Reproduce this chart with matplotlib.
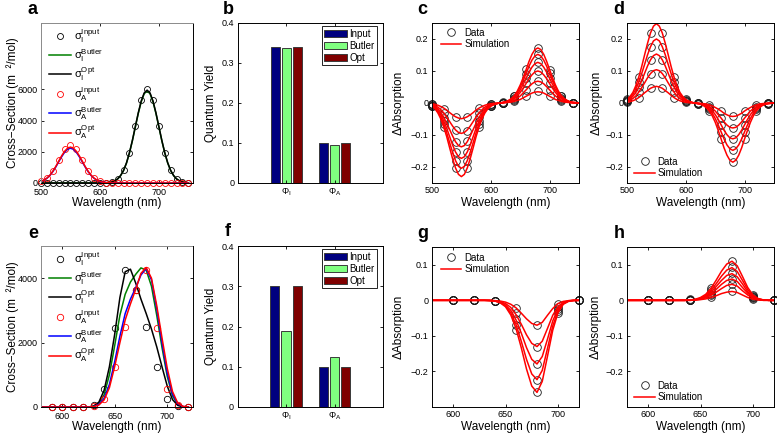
import matplotlib
matplotlib.use('Agg')
import matplotlib.pyplot as plt
from matplotlib.ticker import FuncFormatter

plt.rcParams['font.family'] = ['Liberation Sans', 'DejaVu Sans']
plt.rcParams['mathtext.fontset'] = 'custom'
plt.rcParams['mathtext.rm'] = 'Liberation Sans'
plt.rcParams['mathtext.it'] = 'Liberation Sans:italic'
plt.rcParams['mathtext.bf'] = 'Liberation Sans:bold'
plt.rcParams['mathtext.default'] = 'regular'

# ---------------- data ----------------
# panel a (cross sections, case 1)
wl_a_dat = list(range(500, 760, 10))
sigI_input_a = [0, 0, 0, 0, 0, 0, 0, 0, 0, 0, 0, 0, 70, 260, 810, 1950, 3640, 5290, 6000, 5290, 3640, 1950, 810, 260, 70, 10]
sigA_input_a = [100, 300, 760, 1470, 2180, 2450, 2180, 1470, 760, 300, 100, 30, 0, 0, 0, 0, 0, 0, 0, 0, 0, 0, 0, 0, 0, 0]
wl_a_sim = list(range(500, 755, 5))
sigI_butler_a = [0, 0, 0, 0, 0, 0, 0, 0, 0, 0, 0, 0, 0, 0, 0, 0, 0, 0, 0, 0, 0, 0,
                 12, 30, 65, 136, 260, 472, 797, 1274, 1918, 2702, 3581, 4455, 5204, 5717, 5900,
                 5717, 5204, 4455, 3581, 2702, 1918, 1274, 797, 472, 260, 136, 65, 30, 12]
sigI_opt_a = [0, 0, 0, 0, 0, 0, 0, 0, 0, 0, 0, 0, 0, 0, 0, 0, 0, 0, 0, 0, 0, 0,
              12, 30, 65, 137, 262, 476, 803, 1285, 1934, 2725, 3612, 4492, 5248, 5766, 5950,
              5766, 5248, 4492, 3612, 2725, 1934, 1285, 803, 476, 262, 137, 65, 30, 12]
sigA_butler_a = [98, 178, 301, 482, 725, 1021, 1354, 1684, 1967, 2161, 2230,
                 2161, 1967, 1684, 1354, 1021, 725, 482, 301, 178, 98,
                 51, 25, 11, 4, 2,
                 0, 0, 0, 0, 0, 0, 0, 0, 0, 0, 0, 0, 0, 0, 0, 0, 0, 0, 0, 0, 0, 0, 0, 0, 0]
sigA_opt_a = [101, 184, 311, 497, 748, 1053, 1396, 1737, 2029, 2229, 2300,
              2229, 2029, 1737, 1396, 1053, 748, 497, 311, 184, 101,
              53, 25, 12, 5, 2,
              0, 0, 0, 0, 0, 0, 0, 0, 0, 0, 0, 0, 0, 0, 0, 0, 0, 0, 0, 0, 0, 0, 0, 0, 0]

# panel e (cross sections, case 2)
wl_e_dat = list(range(590, 730, 10))
sigI_input_e = [0, 0, 0, 0, 50, 550, 2450, 4250, 3640, 2500, 1250, 250, 30, 0]
sigA_input_e = [0, 0, 0, 0, 30, 250, 1250, 2500, 3640, 4250, 2450, 550, 50, 0]
wl_e_sim = list(range(580, 725, 5))
sigI_butler_e = [0, 0, 0, 0, 0, 0, 0, 0, 0, 0, 20, 120, 380, 1000, 1900, 2850, 3500, 3880, 4120, 4320, 4250, 3750, 2850, 1850, 950, 350, 80, 10, 0]
sigI_opt_e = [0, 0, 0, 0, 0, 0, 0, 0, 0, 0, 30, 150, 520, 1250, 2250, 3400, 4200, 4280, 3850, 3350, 2900, 2420, 1870, 1250, 650, 230, 50, 5, 0]
sigA_butler_e = [0, 0, 0, 0, 0, 0, 0, 0, 0, 0, 10, 80, 270, 700, 1400, 2200, 2900, 3350, 3700, 4100, 4300, 3950, 3050, 2000, 1050, 400, 100, 15, 0]
sigA_opt_e = [0, 0, 0, 0, 0, 0, 0, 0, 0, 0, 10, 60, 220, 600, 1250, 2000, 2700, 3200, 3650, 4150, 4330, 4000, 3150, 2150, 1200, 480, 120, 20, 0]

# panels b, f (quantum yields)
qy_categories = [r'$\Phi_I$', r'$\Phi_A$']
qy_series = ['Input', 'Butler', 'Opt']
qy_b = {'Input': [0.34, 0.10], 'Butler': [0.337, 0.094], 'Opt': [0.34, 0.10]}
qy_f = {'Input': [0.30, 0.10], 'Butler': [0.19, 0.123], 'Opt': [0.30, 0.10]}

# panels c, d (difference absorption, case 1)
wl_cd_dat = list(range(500, 760, 20))
wl_cd_sim = list(range(500, 755, 5))
data_c = [
    [-0.003, -0.018, -0.045, -0.044, -0.017, -0.002, 0.000, 0.005, 0.022, 0.036, 0.021, 0.005, 0.000],
    [-0.004, -0.032, -0.085, -0.086, -0.030, -0.004, 0.001, 0.009, 0.041, 0.070, 0.042, 0.009, 0.000],
    [-0.006, -0.046, -0.122, -0.120, -0.044, -0.006, 0.001, 0.014, 0.061, 0.101, 0.062, 0.014, 0.001],
    [-0.008, -0.057, -0.153, -0.152, -0.055, -0.008, 0.001, 0.017, 0.078, 0.128, 0.077, 0.017, 0.001],
    [-0.009, -0.066, -0.180, -0.181, -0.067, -0.009, 0.001, 0.021, 0.092, 0.153, 0.093, 0.021, 0.001],
    [-0.010, -0.076, -0.204, -0.202, -0.074, -0.010, 0.002, 0.023, 0.105, 0.173, 0.104, 0.023, 0.001],
]
sim_c = [
    [-0.002, -0.004, -0.007, -0.011, -0.016, -0.022, -0.030, -0.037, -0.043, -0.047, -0.049,
     -0.047, -0.043, -0.037, -0.030, -0.022, -0.016, -0.011, -0.007, -0.004, -0.002,
     -0.001, -0.001, 0.000, 0.000, 0.001,
     0.002, 0.003, 0.005, 0.008, 0.011, 0.016, 0.021, 0.026, 0.031, 0.034, 0.035,
     0.034, 0.031, 0.026, 0.021, 0.016, 0.011, 0.008, 0.005, 0.003, 0.002, 0.001, 0.000, 0.000, 0.000],
    [-0.004, -0.008, -0.013, -0.021, -0.031, -0.044, -0.058, -0.072, -0.084, -0.092, -0.095,
     -0.092, -0.084, -0.072, -0.058, -0.044, -0.031, -0.021, -0.013, -0.008, -0.004,
     -0.002, -0.001, 0.000, 0.001, 0.002,
     0.003, 0.005, 0.009, 0.015, 0.022, 0.031, 0.041, 0.051, 0.060, 0.066, 0.068,
     0.066, 0.060, 0.051, 0.041, 0.031, 0.022, 0.015, 0.009, 0.005, 0.003, 0.002, 0.001, 0.000, 0.000],
    [-0.006, -0.011, -0.018, -0.030, -0.045, -0.063, -0.083, -0.103, -0.121, -0.133, -0.137,
     -0.133, -0.121, -0.103, -0.083, -0.063, -0.045, -0.030, -0.018, -0.011, -0.006,
     -0.003, -0.001, 0.000, 0.001, 0.002,
     0.004, 0.008, 0.014, 0.022, 0.033, 0.046, 0.061, 0.076, 0.088, 0.097, 0.100,
     0.097, 0.088, 0.076, 0.061, 0.046, 0.033, 0.022, 0.014, 0.008, 0.004, 0.002, 0.001, 0.001, 0.000],
    [-0.008, -0.014, -0.023, -0.037, -0.056, -0.079, -0.105, -0.131, -0.153, -0.168, -0.173,
     -0.168, -0.153, -0.131, -0.105, -0.079, -0.056, -0.037, -0.023, -0.014, -0.008,
     -0.004, -0.002, 0.000, 0.001, 0.003,
     0.006, 0.010, 0.017, 0.027, 0.041, 0.058, 0.077, 0.096, 0.112, 0.123, 0.127,
     0.123, 0.112, 0.096, 0.077, 0.058, 0.041, 0.027, 0.017, 0.010, 0.006, 0.003, 0.001, 0.001, 0.000],
    [-0.009, -0.016, -0.028, -0.044, -0.066, -0.093, -0.124, -0.154, -0.180, -0.198, -0.204,
     -0.198, -0.180, -0.154, -0.124, -0.093, -0.066, -0.044, -0.028, -0.016, -0.009,
     -0.005, -0.002, 0.000, 0.001, 0.003,
     0.007, 0.012, 0.021, 0.033, 0.049, 0.070, 0.092, 0.115, 0.134, 0.147, 0.152,
     0.147, 0.134, 0.115, 0.092, 0.070, 0.049, 0.033, 0.021, 0.012, 0.007, 0.003, 0.002, 0.001, 0.000],
    [-0.010, -0.018, -0.031, -0.050, -0.075, -0.105, -0.140, -0.174, -0.203, -0.223, -0.230,
     -0.223, -0.203, -0.174, -0.140, -0.105, -0.075, -0.050, -0.031, -0.018, -0.010,
     -0.005, -0.002, 0.000, 0.002, 0.004,
     0.008, 0.014, 0.023, 0.037, 0.056, 0.079, 0.104, 0.130, 0.152, 0.167, 0.172,
     0.167, 0.152, 0.130, 0.104, 0.079, 0.056, 0.037, 0.023, 0.014, 0.008, 0.004, 0.002, 0.001, 0.000],
]
data_d = [
    [0.002, 0.017, 0.046, 0.046, 0.017, 0.002, 0.000, -0.006, -0.025, -0.042, -0.025, -0.006, 0.000],
    [0.005, 0.034, 0.092, 0.092, 0.034, 0.005, -0.001, -0.011, -0.047, -0.078, -0.047, -0.011, -0.001],
    [0.007, 0.050, 0.135, 0.135, 0.050, 0.007, -0.001, -0.015, -0.068, -0.112, -0.068, -0.015, -0.001],
    [0.009, 0.065, 0.176, 0.176, 0.065, 0.009, -0.002, -0.020, -0.090, -0.148, -0.090, -0.020, -0.002],
    [0.011, 0.081, 0.219, 0.219, 0.081, 0.011, -0.002, -0.025, -0.112, -0.185, -0.112, -0.025, -0.002],
]
sim_d = [
    [0.002, 0.004, 0.007, 0.011, 0.017, 0.024, 0.032, 0.039, 0.046, 0.050, 0.052,
     0.050, 0.046, 0.039, 0.032, 0.024, 0.017, 0.011, 0.007, 0.004, 0.002,
     0.001, 0.001, 0.000, 0.000, -0.001,
     -0.002, -0.003, -0.006, -0.009, -0.014, -0.019, -0.025, -0.032, -0.037, -0.041, -0.042,
     -0.041, -0.037, -0.032, -0.025, -0.019, -0.014, -0.009, -0.006, -0.003, -0.002, -0.001, 0.000, 0.000, 0.000],
    [0.005, 0.008, 0.014, 0.022, 0.034, 0.048, 0.063, 0.079, 0.092, 0.101, 0.104,
     0.101, 0.092, 0.079, 0.063, 0.048, 0.034, 0.022, 0.014, 0.008, 0.005,
     0.002, 0.001, 0.000, -0.001, -0.002,
     -0.003, -0.006, -0.011, -0.017, -0.025, -0.036, -0.047, -0.059, -0.069, -0.076, -0.078,
     -0.076, -0.069, -0.059, -0.047, -0.036, -0.025, -0.017, -0.011, -0.006, -0.003, -0.002, -0.001, 0.000, 0.000],
    [0.007, 0.012, 0.021, 0.033, 0.050, 0.070, 0.093, 0.116, 0.135, 0.148, 0.153,
     0.148, 0.135, 0.116, 0.093, 0.070, 0.050, 0.033, 0.021, 0.012, 0.007,
     0.004, 0.002, 0.000, -0.001, -0.003,
     -0.005, -0.009, -0.015, -0.024, -0.036, -0.051, -0.068, -0.085, -0.099, -0.109, -0.112,
     -0.109, -0.099, -0.085, -0.068, -0.051, -0.036, -0.024, -0.015, -0.009, -0.005, -0.003, -0.001, -0.001, 0.000],
    [0.009, 0.016, 0.027, 0.043, 0.065, 0.092, 0.121, 0.151, 0.176, 0.194, 0.200,
     0.194, 0.176, 0.151, 0.121, 0.092, 0.065, 0.043, 0.027, 0.016, 0.009,
     0.005, 0.002, 0.000, -0.002, -0.003,
     -0.007, -0.012, -0.020, -0.032, -0.048, -0.068, -0.090, -0.112, -0.131, -0.143, -0.148,
     -0.143, -0.131, -0.112, -0.090, -0.068, -0.048, -0.032, -0.020, -0.012, -0.007, -0.003, -0.002, -0.001, 0.000],
    [0.011, 0.020, 0.033, 0.054, 0.081, 0.114, 0.151, 0.187, 0.219, 0.240, 0.248,
     0.240, 0.219, 0.187, 0.151, 0.114, 0.081, 0.054, 0.033, 0.020, 0.011,
     0.006, 0.002, 0.000, -0.002, -0.004,
     -0.008, -0.015, -0.025, -0.040, -0.060, -0.085, -0.112, -0.140, -0.163, -0.179, -0.185,
     -0.179, -0.163, -0.140, -0.112, -0.085, -0.060, -0.040, -0.025, -0.015, -0.008, -0.004, -0.002, -0.001, 0.000],
]

# panels g, h (difference absorption, case 2)
wl_gh_dat = list(range(600, 740, 20))
wl_gh_sim = list(range(580, 725, 5))
data_g = [
    [0, 0, -0.001, -0.022, -0.070, -0.010, 0],
    [0, 0, -0.002, -0.037, -0.130, -0.018, 0],
    [0, 0, -0.002, -0.052, -0.179, -0.025, 0],
    [0, 0, -0.003, -0.068, -0.223, -0.031, 0],
    [0, 0, -0.003, -0.083, -0.259, -0.037, 0],
]
sim_g = [
    [0, 0, 0, 0, 0, 0, 0, 0, 0, 0, 0,
     0.000, -0.001, -0.002, -0.005, -0.011, -0.021, -0.036, -0.052, -0.065, -0.070, -0.062, -0.042, -0.023, -0.009, -0.003, -0.001, 0.000, 0.000],
    [0, 0, 0, 0, 0, 0, 0, 0, 0, 0, 0,
     0.000, -0.001, -0.004, -0.009, -0.020, -0.040, -0.067, -0.097, -0.121, -0.130, -0.115, -0.079, -0.042, -0.018, -0.006, -0.001, 0.000, 0.000],
    [0, 0, 0, 0, 0, 0, 0, 0, 0, 0, 0,
     0.000, -0.002, -0.005, -0.013, -0.028, -0.055, -0.092, -0.133, -0.166, -0.179, -0.158, -0.109, -0.058, -0.024, -0.008, -0.002, 0.000, 0.000],
    [0, 0, 0, 0, 0, 0, 0, 0, 0, 0, 0,
     -0.001, -0.002, -0.006, -0.016, -0.035, -0.068, -0.115, -0.166, -0.207, -0.223, -0.197, -0.135, -0.072, -0.030, -0.010, -0.002, 0.000, 0.000],
    [0, 0, 0, 0, 0, 0, 0, 0, 0, 0, 0,
     -0.001, -0.002, -0.007, -0.018, -0.041, -0.079, -0.133, -0.193, -0.241, -0.259, -0.228, -0.157, -0.084, -0.035, -0.011, -0.003, -0.001, 0.000],
]
data_h = [
    [0, 0, 0.001, 0.008, 0.025, 0.003, 0],
    [0, 0, 0.001, 0.014, 0.046, 0.006, 0],
    [0, 0, 0.002, 0.019, 0.060, 0.008, 0],
    [0, 0, 0.002, 0.024, 0.076, 0.010, 0],
    [0, 0, 0.002, 0.029, 0.094, 0.012, 0],
    [0, 0, 0.003, 0.035, 0.112, 0.015, 0],
]
sim_h = [
    [0, 0, 0, 0, 0, 0, 0, 0, 0, 0, 0,
     0, 0, 0.001, 0.002, 0.004, 0.008, 0.013, 0.019, 0.023, 0.025, 0.022, 0.015, 0.008, 0.003, 0.001, 0, 0, 0],
    [0, 0, 0, 0, 0, 0, 0, 0, 0, 0, 0,
     0, 0, 0.001, 0.003, 0.007, 0.014, 0.023, 0.033, 0.042, 0.045, 0.040, 0.027, 0.015, 0.006, 0.002, 0, 0, 0],
    [0, 0, 0, 0, 0, 0, 0, 0, 0, 0, 0,
     0, 0.001, 0.002, 0.004, 0.009, 0.018, 0.031, 0.045, 0.056, 0.060, 0.053, 0.036, 0.020, 0.008, 0.003, 0.001, 0, 0],
    [0, 0, 0, 0, 0, 0, 0, 0, 0, 0, 0,
     0, 0.001, 0.002, 0.005, 0.012, 0.023, 0.039, 0.056, 0.070, 0.075, 0.066, 0.046, 0.024, 0.010, 0.003, 0.001, 0, 0],
    [0, 0, 0, 0, 0, 0, 0, 0, 0, 0, 0,
     0, 0.001, 0.002, 0.006, 0.014, 0.028, 0.047, 0.068, 0.085, 0.092, 0.081, 0.056, 0.030, 0.012, 0.004, 0.001, 0, 0],
    [0, 0, 0, 0, 0, 0, 0, 0, 0, 0, 0,
     0, 0.001, 0.003, 0.008, 0.017, 0.034, 0.057, 0.082, 0.102, 0.110, 0.097, 0.067, 0.036, 0.015, 0.005, 0.001, 0, 0],
]

# ---------------- figure ----------------
W, H = 777, 434
fig = plt.figure(figsize=(W / 100, H / 100), dpi=100)


def add_ax(x0, y0, x1, y1):
    return fig.add_axes([x0 / W, 1 - y1 / H, (x1 - x0) / W, (y1 - y0) / H])


def fmt(v, pos):
    s = '%g' % round(v, 6)
    if s == '-0':
        s = '0'
    return s.replace('-', '\u2212')


def style(ax, gray=False, xpad=2.5):
    ax.tick_params(direction='in', length=2.5, width=0.6, top=True, right=True,
                   labelsize=6.5, pad=2.5)
    ax.tick_params(axis='x', pad=xpad)
    for s in ax.spines.values():
        s.set_linewidth(0.7)
    if gray:
        ax.spines['left'].set_color('#8a8a8a')
        ax.spines['top'].set_color('#8a8a8a')
    ax.yaxis.set_major_formatter(FuncFormatter(fmt))


LBL = 8.5
GREEN = '#008000'
circ = dict(marker='o', mfc='none', ls='none', clip_on=False)

# ---- cross-section panels ----
def cross_panel(box, wl_dat, iin, ain, wl_sim, ib, io, ab, ao, xlim, ylim, xt, yt, ms, leg_anchor, ycoord, xcoord):
    ax = add_ax(*box)
    ax.plot(wl_dat, iin, mec='black', ms=ms, mew=0.6, label=r'$\sigma_I^{Input}$', **circ)
    ax.plot(wl_sim, ib, color=GREEN, lw=1.1, label=r'$\sigma_I^{Butler}$')
    ax.plot(wl_sim, io, color='black', lw=1.1, label=r'$\sigma_I^{Opt}$')
    ax.plot(wl_dat, ain, mec='#ff0000', ms=ms, mew=0.6, label=r'$\sigma_A^{Input}$', **circ)
    ax.plot(wl_sim, ab, color='#0000ff', lw=1.1, label=r'$\sigma_A^{Butler}$')
    ax.plot(wl_sim, ao, color='#ff0000', lw=1.1, label=r'$\sigma_A^{Opt}$')
    ax.set_xlim(*xlim)
    ax.set_ylim(*ylim)
    ax.set_xticks(xt)
    ax.set_yticks(yt)
    style(ax, gray=True, xpad=3.5)
    ax.set_xlabel('Wavelength (nm)', fontsize=LBL)
    ax.set_ylabel('Cross\u2212Section (m  \u00b2/mol)', fontsize=LBL)
    ax.yaxis.set_label_coords(xcoord, 0.5)
    ax.xaxis.set_label_coords(0.5, ycoord)
    ax.legend(loc='upper left', bbox_to_anchor=leg_anchor, frameon=False, fontsize=8,
              handlelength=2.0, handletextpad=0.3, labelspacing=0.16, borderpad=0,
              borderaxespad=0, markerscale=1.0)
    return ax


cross_panel((41, 23, 192.5, 183), wl_a_dat, sigI_input_a, sigA_input_a, wl_a_sim,
            sigI_butler_a, sigI_opt_a, sigA_butler_a, sigA_opt_a,
            (500, 757), (0, 10250), [500, 600, 700], [0, 2000, 4000, 6000], 4.3,
            (0.05, 0.975), -0.085, -0.145)
cross_panel((41, 246, 192.5, 407), wl_e_dat, sigI_input_e, sigA_input_e, wl_e_sim,
            sigI_butler_e, sigI_opt_e, sigA_butler_e, sigA_opt_e,
            (580, 724), (0, 5000), [600, 650, 700], [0, 2000, 4000], 4.6,
            (0.05, 0.975), -0.09, -0.145)

# ---- quantum yield panels ----
bar_colors = {'Input': '#00007f', 'Butler': '#80ff80', 'Opt': '#7f0000'}
offsets = {'Input': -0.23, 'Butler': 0.0, 'Opt': 0.23}


def qy_panel(box, vals, xcoord):
    ax = add_ax(*box)
    pos = [1, 2]
    for s in qy_series:
        ax.bar([p + offsets[s] for p in pos], vals[s], width=0.19, color=bar_colors[s],
               edgecolor='#3a3a3a', linewidth=0.7, label=s)
    ax.set_xlim(0, 3)
    ax.set_ylim(0, 0.4)
    ax.set_xticks(pos)
    ax.set_xticklabels(qy_categories, fontsize=7.5)
    ax.set_yticks([0, 0.1, 0.2, 0.3, 0.4])
    style(ax)
    ax.set_ylabel('Quantum Yield', fontsize=LBL)
    ax.yaxis.set_label_coords(xcoord, 0.5)
    ax.legend(loc='upper right', bbox_to_anchor=(0.96, 0.98), fontsize=7, frameon=True,
              fancybox=False, edgecolor='black', framealpha=1, handlelength=2.3,
              handleheight=0.75, handletextpad=0.3, labelspacing=0.2, borderpad=0.25,
              borderaxespad=0)
    ax.get_legend().get_frame().set_linewidth(0.6)
    return ax


qy_panel((238, 23, 383, 183), qy_b, -0.145)
qy_panel((237.5, 246, 383, 407), qy_f, -0.141)

# ---- difference absorption panels ----
def diff_panel(box, wl_dat, dat, wl_sim, sim, xlim, ylim, xt, yt, legloc, anchor, xcoord, ycoord):
    ax = add_ax(*box)
    for i, row in enumerate(dat):
        ax.plot(wl_dat, row, mec='#1a1a1a', ms=5.5, mew=0.6,
                label='Data' if i == 0 else None, **circ)
    for i, row in enumerate(sim):
        ax.plot(wl_sim, row, color='#ff0000', lw=1.1,
                label='Simulation' if i == 0 else None)
    ax.set_xlim(*xlim)
    ax.set_ylim(*ylim)
    ax.set_xticks(xt)
    ax.set_yticks(yt)
    style(ax)
    ax.set_xlabel('Wavelength (nm)', fontsize=LBL)
    ax.set_ylabel('\u0394Absorption', fontsize=LBL)
    ax.yaxis.set_label_coords(xcoord, 0.5)
    ax.xaxis.set_label_coords(0.5, ycoord)
    ax.legend(loc=legloc, bbox_to_anchor=anchor, frameon=False, fontsize=7,
              handlelength=2.1, handletextpad=0.3, labelspacing=0.15, borderpad=0,
              borderaxespad=0)
    return ax


diff_panel((432, 23, 579, 183), wl_cd_dat, data_c, wl_cd_sim, sim_c, (500, 750), (-0.25, 0.25),
           [500, 600, 700], [-0.2, -0.1, 0, 0.1, 0.2], 'upper left', (0.06, 0.97), -0.185, -0.085)
diff_panel((627, 23, 774, 183), wl_cd_dat, data_d, wl_cd_sim, sim_d, (500, 750), (-0.25, 0.25),
           [500, 600, 700], [-0.2, -0.1, 0, 0.1, 0.2], 'lower left', (0.05, 0.03), -0.165, -0.085)
diff_panel((432, 247, 579, 407), wl_gh_dat, data_g, wl_gh_sim, sim_g, (580, 720), (-0.3, 0.15),
           [600, 650, 700], [-0.2, -0.1, 0, 0.1], 'upper left', (0.06, 0.965), -0.185, -0.09)
diff_panel((627, 247, 774, 407), wl_gh_dat, data_h, wl_gh_sim, sim_h, (580, 720), (-0.3, 0.15),
           [600, 650, 700], [-0.2, -0.1, 0, 0.1], 'lower left', (0.05, 0.03), -0.17, -0.09)

# ---- panel letters ----
letters = ['a', 'b', 'c', 'd', 'e', 'f', 'g', 'h']
letter_pos = [(33, 9), (228, 9), (422, 9), (619, 9), (33, 234), (228, 232), (423, 234), (619, 234)]
for t, (x, y) in zip(letters, letter_pos):
    fig.text(x / W, 1 - y / H, t, fontsize=13, fontweight='bold', ha='center', va='center')

fig.savefig('out.png', dpi=100)
